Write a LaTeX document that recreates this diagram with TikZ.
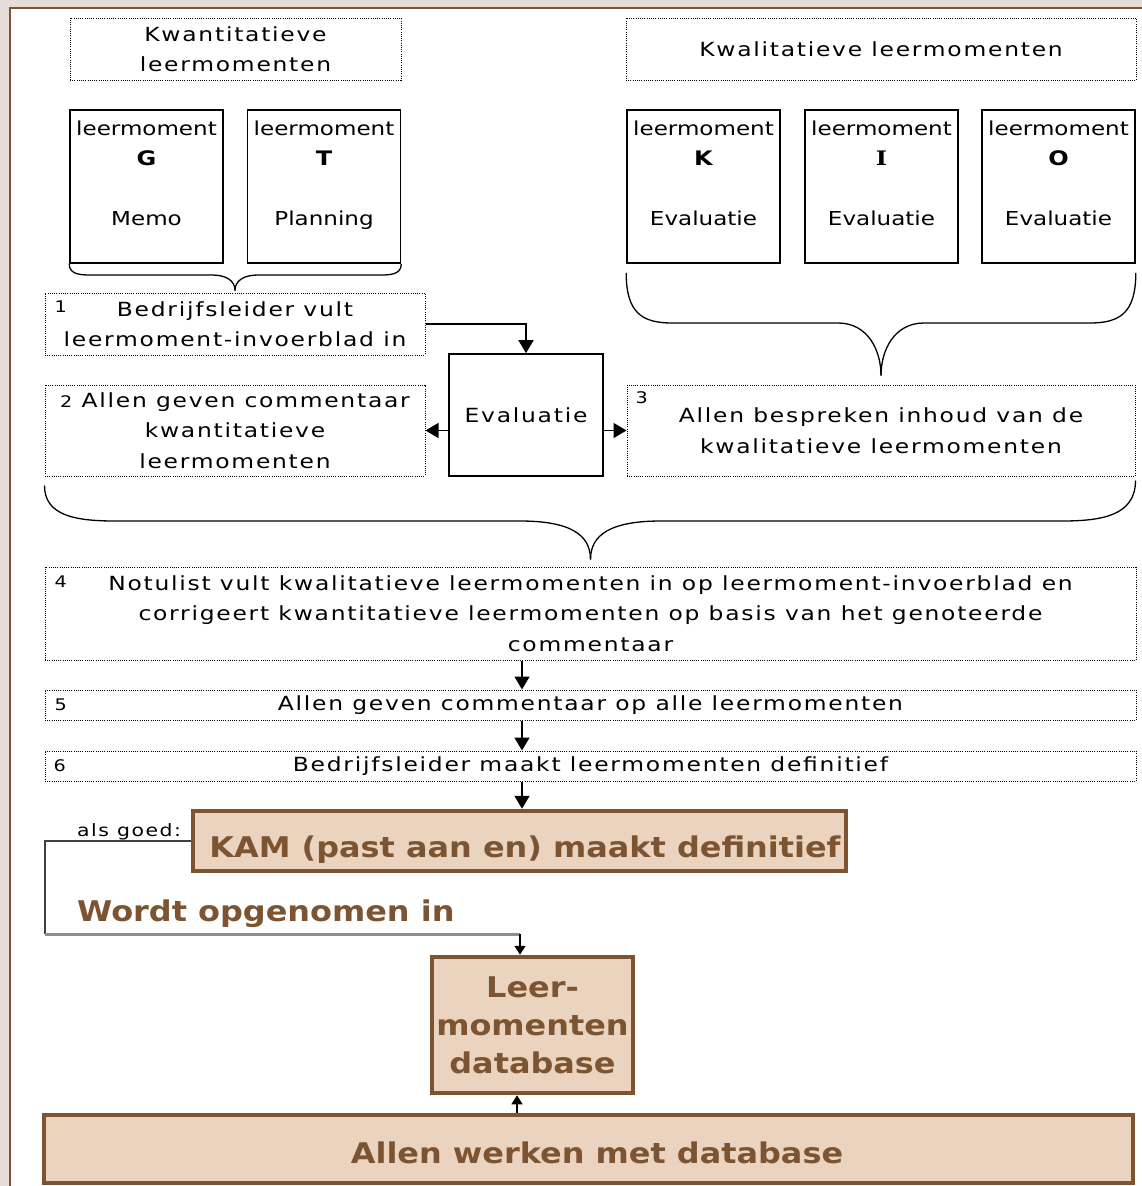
\documentclass[tikz,border=0pt]{standalone}
\usepackage{fontspec}
\setmainfont{DejaVu Sans}[FakeStretch=1.2, LetterSpace=9]
\newfontfamily\boxfont{DejaVu Sans}[FakeStretch=1.2]
\newfontfamily\brownfont{DejaVu Sans}[FakeStretch=1.12]
\newfontfamily\serifletter{DejaVu Serif}[FakeStretch=1.2]
\usetikzlibrary{arrows.meta}

\definecolor{kamfill}{HTML}{EAD4BF}
\definecolor{kambrown}{HTML}{7C5431}
\definecolor{outerbg}{HTML}{E7DDD8}
\definecolor{linegrey}{HTML}{8E8E8E}

\begin{document}
\begin{tikzpicture}[x=1pt,y=-1pt,
  dotbox/.style={draw, dash pattern=on 1pt off 1.2pt, line width=1pt, inner sep=0pt, align=center, font=\fontsize{19.5}{30.5}\selectfont},
  lmbox/.style={draw, line width=1.6pt, minimum width=153pt, minimum height=153pt},
  txt/.style={inner sep=0pt, anchor=base, font=\boxfont\fontsize{19.2}{30.5}\selectfont},
  num/.style={inner sep=0pt, anchor=north west, font=\fontsize{16}{18}\selectfont},
  kambox/.style={draw=kambrown, fill=kamfill, line width=4.5pt, inner sep=0pt, align=center, text=kambrown, font=\brownfont\bfseries\fontsize{28.5}{38}\selectfont},
  browntext/.style={inner sep=0pt, text=kambrown, font=\brownfont\bfseries\fontsize{28.5}{38}\selectfont},
  flow/.style={line width=1.5pt, -{Triangle[width=15pt,length=13pt]}},
  flowsmall/.style={line width=1.3pt, -{Triangle[width=11pt,length=9pt]}},
  brace/.style={line width=1.3pt}]
\useasboundingbox (0,0) rectangle (1142,1186);

% backdrop and frame
\fill[outerbg] (0,0) rectangle (1142,1186);
\fill[white] (10,8) rectangle (1142,1186);
\draw[kambrown, line width=2.5pt] (10,1186) -- (10,8) -- (1142,8);

% headers
\node[dotbox, minimum width=331pt, minimum height=62pt] (kwant) at (235.5,49) {Kwantitatieve\\leermomenten};
\node[dotbox, minimum width=510pt, minimum height=62pt] (kwal) at (881,49) {Kwalitatieve leermomenten};

% leermoment boxes
\foreach \cx/\name/\letter/\what in {146.5/G/G/Memo, 324/T/T/Planning, 703.5/K/K/Evaluatie, 881.5/I/{\serifletter I}/Evaluatie, 1058.5/O/O/Evaluatie}{
  \node[lmbox] (\name) at (\cx,186.5) {};
  \node[txt] (\name-top) at (\cx,135) {leermoment};
  \node[txt, font=\boxfont\bfseries\fontsize{20}{24}\selectfont] (\name-letter) at (\cx,165) {\letter};
  \node[txt] (\name-what) at (\cx,225) {\what};
}

% steps
\node[dotbox, minimum width=380pt, minimum height=62pt] (step1) at (235,324) {Bedrijfsleider vult\\leermoment-invoerblad in};
\node[num] (n1) at ([shift={(10,8)}]step1.north west) {1};

\node[draw, line width=1.6pt, minimum width=154pt, minimum height=122pt, inner sep=0pt, font=\fontsize{19.5}{30.5}\selectfont] (eval) at (526,415) {Evaluatie};

\node[dotbox, minimum width=380pt, minimum height=91pt] (step2) at (235,430.5) {{\fontsize{16}{18}\selectfont 2} Allen geven commentaar\\kwantitatieve\\leermomenten};

\node[dotbox, minimum width=508pt, minimum height=91pt] (step3) at (881,430.5) {Allen bespreken inhoud van de\\kwalitatieve leermomenten};
\node[num] (n3) at ([shift={(9,7)}]step3.north west) {3};

\node[dotbox, minimum width=1091pt, minimum height=93pt] (step4) at (590.5,613.5) {Notulist vult kwalitatieve leermomenten in op leermoment-invoerblad en\\corrigeert kwantitatieve leermomenten op basis van het genoteerde\\commentaar};
\node[num] (n4) at ([shift={(10,9)}]step4.north west) {4};

\node[dotbox, minimum width=1091pt, minimum height=30pt] (step5) at (590.5,705) {Allen geven commentaar op alle leermomenten};
\node[num] (n5) at ([shift={(10,9)}]step5.north west) {5};

\node[dotbox, minimum width=1091pt, minimum height=30pt] (step6) at (590.5,766) {Bedrijfsleider maakt leermomenten definitief};
\node[num] (n6) at ([shift={(9,9)}]step6.north west) {6};

% braces
\draw[brace] (G.south west) .. controls +(0,12) and +(-12,0) .. (95,275) -- (212,275) .. controls +(14,0) and +(0,-10) .. ([yshift=2pt]step1.north);
\draw[brace] (T.south east) .. controls +(0,12) and +(12,0) .. (376,275) -- (258,275) .. controls +(-14,0) and +(0,-10) .. ([yshift=2pt]step1.north);

\draw[brace] ([yshift=-9pt]K.south west) .. controls +(0,40) and +(-30,0) .. (672,323) -- (838,323) .. controls +(30,0) and +(0,-25) .. ([yshift=9pt]step3.north);
\draw[brace] ([yshift=-9pt]O.south east) .. controls +(0,40) and +(30,0) .. (1090,323) -- (924,323) .. controls +(-30,0) and +(0,-25) .. ([yshift=9pt]step3.north);

\draw[brace] ([yshift=-9pt]step2.south west) .. controls +(0,30) and +(-40,0) .. (115,521) -- (520,521) .. controls +(50,0) and +(0,-25) .. ([yshift=7pt]step4.north);
\draw[brace] ([yshift=-4pt]step3.south east) .. controls +(0,35) and +(40,0) .. (1062,521) -- (661,521) .. controls +(-50,0) and +(0,-25) .. ([yshift=7pt]step4.north);

% arrows round evaluatie
\draw[flow] (step1.east) -| (eval.north);
\draw[flow] (eval.west |- step2.east) -- (step2.east);
\draw[flow] (eval.east |- step3.west) -- (step3.west);

% main flow
\coordinate (axis) at (522,0);
\node[kambox, minimum width=653pt, minimum height=60pt] (kam) at (519.5,841) {};
\node[browntext, anchor=base] (kam-text) at (525,857) {KAM (past aan en) maakt definitief};
\draw[flow] (axis |- step4.south) -- (axis |- step5.north);
\draw[flow] (axis |- step5.south) -- (axis |- step6.north);
\draw[flow] (axis |- step6.south) -- (axis |- kam.north);

\node[inner sep=0pt, anchor=base west, font=\fontsize{17}{20}\selectfont] (goed) at (77,836) {als goed:};
\node[browntext, anchor=base west] (opgenomen) at (77,921) {Wordt opgenomen in};

\node[kambox, minimum width=201pt, minimum height=136pt] (db) at (532.5,1025) {Leer-\\momenten\\database};
\node[kambox, minimum width=1089pt, minimum height=68pt] (allen) at (588.5,1149) {};
\node[browntext, anchor=base] (allen-text) at (597,1163) {Allen werken met database};

% loop back into the database
\coordinate (loopcorner) at (45,934);
\coordinate (dbin) at (520,934);
\draw[line width=1.5pt, black!75] (kam.west) -| (loopcorner);
\draw[line width=3pt, linegrey] (loopcorner) -- (dbin);
\draw[flowsmall] (dbin) -- (dbin |- db.north);

\coordinate (dbup) at (517,0);
\draw[flowsmall] (dbup |- allen.north) -- (dbup |- db.south);
\end{tikzpicture}
\end{document}
